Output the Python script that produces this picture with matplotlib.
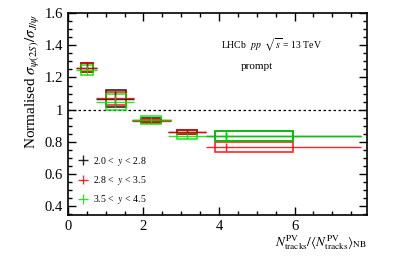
import numpy as np
import matplotlib
matplotlib.use("Agg")
import matplotlib.pyplot as plt
from matplotlib.patches import Rectangle
from matplotlib.ticker import MultipleLocator, FormatStrFormatter

plt.rcParams['font.family'] = ['Liberation Serif', 'DejaVu Serif']
plt.rcParams['mathtext.fontset'] = 'stix'

# === data ===
x_pts = [0.50, 1.25, 2.20, 3.15, 4.19]
x_lo = [0.22, 0.74, 1.71, 2.66, 3.65]
x_hi = [0.78, 1.75, 2.72, 3.67, 7.75]
box_lo = [0.34, 1.00, 1.93, 2.88, 3.89]
box_hi = [0.67, 1.53, 2.46, 3.41, 5.97]

ratio_y1 = [1.262, 1.068, 0.935, 0.862, 0.835]
stat_y1 = [0.025, 0.045, 0.010, 0.010, 0.025]
sys_y1 = [0.030, 0.054, 0.013, 0.012, 0.030]

ratio_y2 = [1.262, 1.070, 0.930, 0.864, 0.767]
stat_y2 = [0.025, 0.035, 0.012, 0.010, 0.025]
sys_y2 = [0.030, 0.042, 0.014, 0.012, 0.030]

ratio_y3 = [1.245, 1.048, 0.935, 0.835, 0.835]
stat_y3 = [0.028, 0.040, 0.020, 0.018, 0.028]
sys_y3 = [0.032, 0.048, 0.025, 0.020, 0.031]

labels = [r'2.0 <  $y$ < 2.8', r'2.8 <  $y$ < 3.5', r'3.5 <  $y$ < 4.5']
colors = ['black', '#ff0000', '#00e600']

series = [(ratio_y1, stat_y1, sys_y1), (ratio_y2, stat_y2, sys_y2), (ratio_y3, stat_y3, sys_y3)]

# === plot ===
fig = plt.figure(figsize=(3.99, 2.57), dpi=100)
ax = fig.add_axes([0.170, 0.163, 0.750, 0.786])

x = np.array(x_pts)
xerr = [x - np.array(x_lo), np.array(x_hi) - x]

handles = []
for (vals, stat, sys_), col, lab in zip(series, colors, labels):
    for xl, xh, v, s in zip(box_lo, box_hi, vals, sys_):
        ax.add_patch(Rectangle((xl, v - s), xh - xl, 2 * s, fill=False,
                               edgecolor=col, lw=1.2, alpha=0.85, zorder=2))
    h = ax.errorbar(x, vals, xerr=xerr, yerr=stat, fmt='none', ecolor=col,
                    elinewidth=1.0, capsize=0, alpha=0.85, zorder=3, label=lab)
    handles.append(h)

ax.axhline(1.0, color='black', ls=(0, (2, 2)), lw=0.9, zorder=1)

ax.set_xlim(0, 7.92)
ax.set_ylim(0.345, 1.6)
ax.xaxis.set_major_locator(MultipleLocator(2))
ax.xaxis.set_minor_locator(MultipleLocator(0.5))
ax.yaxis.set_major_locator(MultipleLocator(0.2))
ax.yaxis.set_minor_locator(MultipleLocator(0.05))
ax.yaxis.set_major_formatter(FormatStrFormatter('%g'))
ax.tick_params(which='both', direction='in', top=True, right=True, labelsize=10.5, width=1.0)
ax.tick_params(which='major', length=6)
ax.tick_params(which='minor', length=3)
for sp in ax.spines.values():
    sp.set_linewidth(1.2)

ax.set_ylabel(r'Normalised $\sigma_{\psi(2S)}/\sigma_{J/\psi}$', fontsize=11, loc='top', labelpad=2)
ax.set_xlabel(r'$N^{\rm PV}_{\rm tracks}/\langle N^{\rm PV}_{\rm tracks}\rangle_{\rm NB}$',
              fontsize=9.5, loc='right', labelpad=0)

ax.text(0.68, 0.846, r'LHCb  $pp$  $\sqrt{s}$ = 13 TeV', transform=ax.transAxes,
        fontsize=7, ha='center', va='center')
ax.text(0.63, 0.735, 'prompt', transform=ax.transAxes, fontsize=8, ha='center', va='center')

ax.legend(handles=handles, loc='lower left', bbox_to_anchor=(0.0, 0.0), frameon=False,
          fontsize=7, handlelength=1.3, handletextpad=0.4, labelspacing=0.65)

fig.savefig('out.png', dpi=100)
